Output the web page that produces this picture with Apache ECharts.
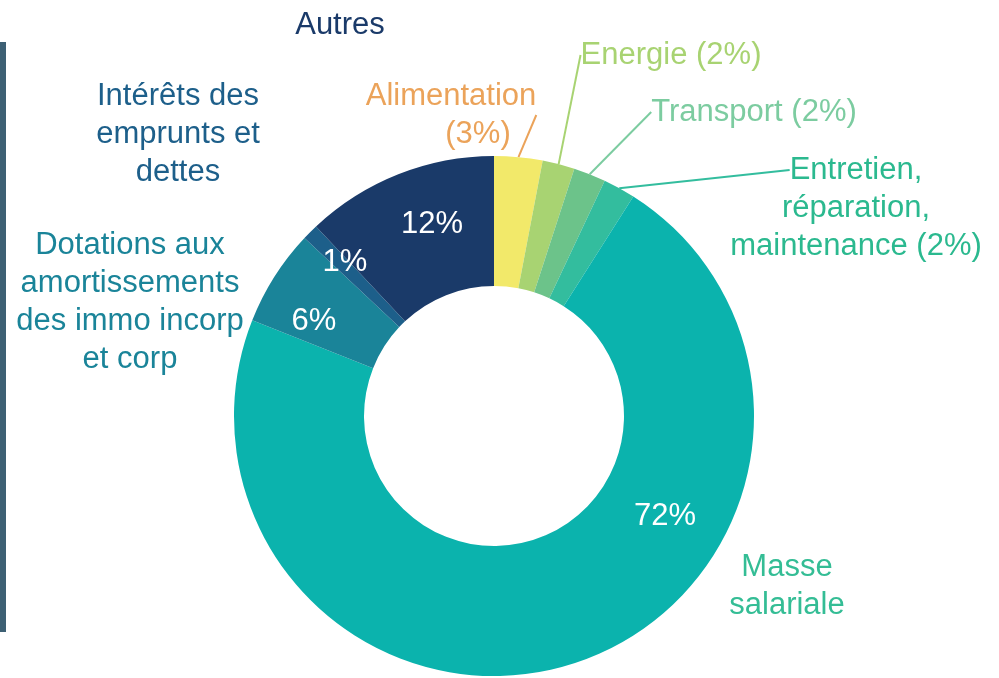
<!DOCTYPE html>
<html>
<head>
<meta charset="utf-8">
<script src="https://cdn.jsdelivr.net/npm/echarts@6/dist/echarts.min.js"></script>
<style>
html, body { margin: 0; padding: 0; background: #fff; }
#chartBox { width: 999px; height: 678px; }
</style>
</head>
<body>
<div id="chartBox"></div>
<script>
// postes de charges, dans l'ordre horaire depuis midi
var categories = ['Alimentation', 'Energie', 'Transport', 'Entretien, réparation, maintenance', 'Masse salariale', 'Dotations aux amortissements des immo incorp et corp', 'Intérêts des emprunts et dettes', 'Autres'];
var shares = [3, 2, 2, 2, 72, 6, 1, 12];
// textes tels qu'affichés (retours à la ligne compris)
var nameLabels = ['{a|Alimentation}\n{b|(3%)}', 'Energie (2%)', 'Transport (2%)', 'Entretien,', 'Masse\nsalariale', 'Dotations aux\namortissements\ndes immo incorp\net corp', 'Intérêts des\nemprunts et\ndettes', 'Autres'];
// 2e étiquette : pourcentages dans l'anneau (+ suite du texte "Entretien")
var ringLabels = ['', '', '', 'réparation,\nmaintenance (2%)', '72%', '6%', '1%', '12%'];

var sliceColors = ['#f2e96a', '#a8d372', '#6cc38a', '#33bd9e', '#0bb3ad', '#1a8499', '#1d5f8a', '#1a3a69'];
var textColors  = ['#eba35a', '#a8d372', '#7ccca0', '#2bb98f', '#34bd95', '#1a8499', '#1d5f8a', '#1a3a69'];
var lineColors  = ['#eba35a', '#a8d372', '#7ccca0', '#33bd9e'];

// centre des blocs de texte (px)
var namePos = [[451, 115], [671, 55], [754, 112], [856, 170], [787, 586], [130, 302], [178, 134], [340, 25]];
var ringPos = [null, null, null, [856, 227], [665, 516], [314, 321], [345, 262], [432, 224]];

var chart = echarts.init(document.getElementById('chartBox'));

var pieData = shares.map(function (v, i) {
  return {
    name: categories[i],
    value: v,
    itemStyle: { color: sliceColors[i] },
    label: { show: ringLabels[i] !== '', color: i === 3 ? textColors[3] : '#fff' }
  };
});

var overlayData = shares.map(function (v, i) {
  return {
    name: categories[i],
    value: v,
    label: { color: textColors[i] },
    labelLine: i < 4 ? { show: true, lineStyle: { color: lineColors[i], width: 2 } } : { show: false }
  };
});

var fontFam = '"Liberation Sans", Arial, sans-serif';

var option = {
  animation: false,
  graphic: [{
    type: 'rect',
    left: 0,
    top: 42,
    shape: { width: 6, height: 590 },
    style: { fill: '#3d6074' }
  }],
  series: [
    {
      // anneau visible + pourcentages
      type: 'pie',
      center: [494, 416],
      radius: [130, 260],
      startAngle: 90,
      clockwise: true,
      data: pieData,
      emphasis: { disabled: true },
      label: {
        position: 'inside',
        fontSize: 31,
        lineHeight: 38,
        fontFamily: fontFam,
        overflow: 'none',
        formatter: function (p) { return ringLabels[p.dataIndex]; }
      },
      labelLine: { show: false },
      labelLayout: function (p) {
        var pos = ringPos[p.dataIndex];
        if (!pos) return {};
        return { x: pos[0], y: pos[1], align: 'center', verticalAlign: 'middle' };
      }
    },
    {
      // même anneau transparent, porte les noms
      type: 'pie',
      center: [494, 416],
      radius: [130, 260],
      startAngle: 90,
      clockwise: true,
      silent: true,
      data: overlayData,
      itemStyle: { color: 'rgba(0,0,0,0)' },
      emphasis: { disabled: true },
      label: {
        position: 'outside',
        fontSize: 31,
        lineHeight: 38,
        fontFamily: fontFam,
        overflow: 'none',
        formatter: function (p) { return nameLabels[p.dataIndex]; },
        rich: {
          a: { fontSize: 31, lineHeight: 38, fontFamily: fontFam },
          b: { fontSize: 31, lineHeight: 38, fontFamily: fontFam, padding: [0, 0, 0, 54] }
        }
      },
      labelLine: { length: 10, length2: 0 },
      labelLayout: function (p) {
        var pos = namePos[p.dataIndex];
        return { x: pos[0], y: pos[1], align: 'center', verticalAlign: 'middle' };
      }
    }
  ]
};

chart.setOption(option);
</script>
</body>
</html>
